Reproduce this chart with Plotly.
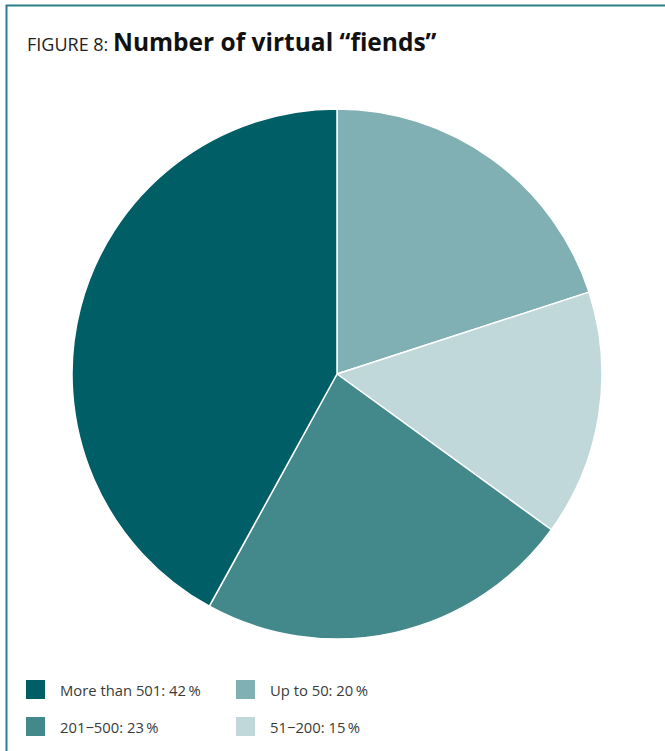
import plotly.graph_objects as go

# Share of respondents by number of virtual "fiends"
labels = ["Up to 50", "51\u2212200", "201\u2212500", "More than 501"]
values = [20, 15, 23, 42]
colors = ["#80b0b3", "#c0d8da", "#43898c", "#005f66"]

# Legend layout order (row-major, two columns)
legend_order = ["More than 501", "Up to 50", "201\u2212500", "51\u2212200"]

W, H = 665, 751


def px(x):
    return x / W


def py(y):
    return 1 - y / H


fig = go.Figure(
    go.Pie(
        labels=labels,
        values=values,
        sort=False,
        direction="clockwise",
        rotation=0,
        marker=dict(colors=colors, line=dict(color="white", width=1.5)),
        textinfo="none",
        hoverinfo="label+percent",
        domain=dict(x=[px(72), px(602)], y=[py(639), py(109)]),
        showlegend=False,
    )
)

shapes = [
    # frame along the left and top edges
    dict(
        type="path",
        xref="paper",
        yref="paper",
        path=f"M {px(6.5)} 0 L {px(6.5)} {py(5.5)} L 1 {py(5.5)}",
        line=dict(color="#2b7f86", width=2),
    )
]
annotations = [
    dict(
        x=px(25), y=py(42), xref="paper", yref="paper",
        xanchor="left", yanchor="middle", showarrow=False,
        text="<span style='font-size:18px;color:#222'>FIGURE 8: </span>"
             "<b style='font-size:24.5px;color:#111'>Number of virtual \u201cfiends\u201d</b>",
        font=dict(family="Open Sans", size=18, color="#111"),
    )
]

col_x = [26, 236]
row_y = [680, 717]
sw = 19
for i, name in enumerate(legend_order):
    r, c = divmod(i, 2)
    idx = labels.index(name)
    x0, y0 = col_x[c], row_y[r]
    shapes.append(
        dict(
            type="rect", xref="paper", yref="paper",
            x0=px(x0), x1=px(x0 + sw), y0=py(y0 + sw), y1=py(y0),
            fillcolor=colors[idx], line=dict(width=0),
        )
    )
    annotations.append(
        dict(
            x=px(x0 + 32), y=py(y0 + sw / 2), xref="paper", yref="paper",
            xanchor="left", yanchor="middle", showarrow=False,
            text=f"{name}: {values[idx]}\u2009%",
            font=dict(family="Open Sans", size=14.8, color="#3a3a3a"),
        )
    )

fig.update_layout(
    width=W,
    height=H,
    margin=dict(l=0, r=0, t=0, b=0),
    paper_bgcolor="white",
    plot_bgcolor="white",
    shapes=shapes,
    annotations=annotations,
)

fig.write_html("out.html")
